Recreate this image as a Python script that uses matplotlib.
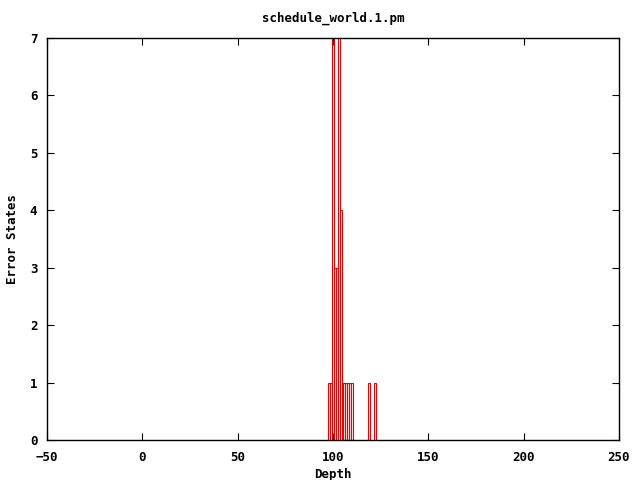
import matplotlib
matplotlib.use("Agg")
import matplotlib.pyplot as plt

# depth -> number of error states
depth = [98, 99, 100, 101, 102, 103, 104, 105, 106, 107, 108, 109, 110, 119, 122]
errors = [1, 1, 7, 3, 3, 7, 4, 1, 1, 1, 1, 1, 1, 1, 1]

xticks = [-50, 0, 50, 100, 150, 200, 250]
yticks = [0, 1, 2, 3, 4, 5, 6, 7]

plt.rcParams['font.family'] = ['DejaVu Sans Mono']
plt.rcParams['font.weight'] = 'bold'

fig = plt.figure(figsize=(6.4, 4.8), dpi=100)
ax = fig.add_axes([47/640, 40/480, 572/640, 402/480])

ax.bar(depth, errors, width=1, fill=False, edgecolor='#ee0000', linewidth=0.8)

ax.set_xlim(-50, 250)
ax.set_ylim(0, 7)
ax.set_xticks(xticks)
ax.set_yticks(yticks)
ax.tick_params(direction='in', top=True, right=True, length=5, width=0.8, labelsize=9)
ax.tick_params(axis='x', pad=8)
ax.tick_params(axis='y', pad=7)
for s in ax.spines.values():
    s.set_linewidth(1)

ax.set_title('schedule_world.1.pm', fontsize=9, fontweight='bold', pad=12)
ax.set_xlabel('Depth', fontsize=9, fontweight='bold', labelpad=3)
ax.set_ylabel('Error States', fontsize=9, fontweight='bold', labelpad=8)

fig.savefig('out.png', dpi=100)
